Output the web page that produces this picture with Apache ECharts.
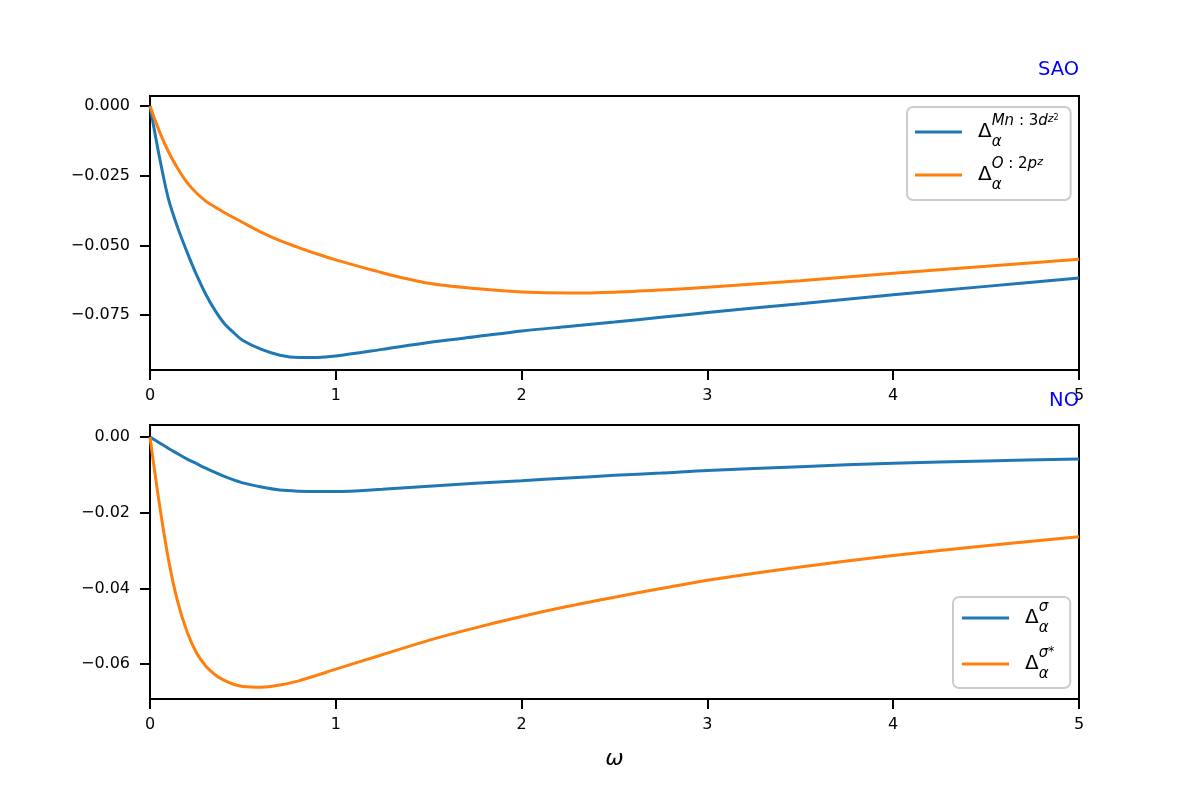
<!DOCTYPE html>
<html>
<head>
<meta charset="utf-8">
<script src="https://cdn.jsdelivr.net/npm/echarts@6/dist/echarts.min.js"></script>
<style>
  html, body { margin: 0; padding: 0; background: #fff; }
  #main { width: 1200px; height: 800px; }
</style>
</head>
<body>
<div id="main"></div>
<script>
// omega grid (x values shared by all curves)
var omega = [0, 0.05, 0.1, 0.15, 0.2, 0.25, 0.3, 0.35, 0.4, 0.45, 0.5, 0.6, 0.7, 0.8, 0.9, 1.0,
             1.25, 1.5, 1.75, 2.0, 2.25, 2.5, 2.75, 3.0, 3.5, 4.0, 4.5, 5.0];

// SAO panel
var saoMn = [0, -0.018, -0.0335, -0.0438, -0.0525, -0.0605, -0.0675, -0.0733, -0.078, -0.0813, -0.0841,
             -0.0873, -0.0894, -0.0902, -0.0902, -0.0897, -0.0873, -0.0848, -0.0828, -0.0807, -0.0791,
             -0.0775, -0.0758, -0.0741, -0.0709, -0.0677, -0.0647, -0.0617];
var saoO = [0, -0.009, -0.0165, -0.0225, -0.0275, -0.0312, -0.0341, -0.0362, -0.0382, -0.04, -0.0418,
            -0.0453, -0.0483, -0.0508, -0.0531, -0.0552, -0.0598, -0.0636, -0.0655, -0.0667, -0.0671,
            -0.0668, -0.066, -0.065, -0.0627, -0.06, -0.0575, -0.055];

// NO panel
var noSig = [0, -0.0015, -0.003, -0.0044, -0.0058, -0.007, -0.0082, -0.0093, -0.0104, -0.0113, -0.0121,
             -0.0132, -0.014, -0.0143, -0.0144, -0.0144, -0.0138, -0.013, -0.0122, -0.0115, -0.0108,
             -0.0101, -0.0095, -0.0088, -0.0078, -0.0069, -0.0063, -0.0058];
var noSigStar = [0, -0.0175, -0.0325, -0.0437, -0.0515, -0.057, -0.0605, -0.0628, -0.0643, -0.0653, -0.0659,
                 -0.0661, -0.0655, -0.0644, -0.0629, -0.0613, -0.0575, -0.0537, -0.0504, -0.0474, -0.0447,
                 -0.0423, -0.04, -0.0378, -0.0343, -0.0313, -0.0287, -0.0263];

// tick labels
var saoTicks = [0, -0.025, -0.05, -0.075];
var noTicks = [0, -0.02, -0.04, -0.06];
var saoRange = [-0.0947, 0.0036];
var noRange = [-0.0692, 0.0032];

var BLUE = '#1f77b4';
var ORANGE = '#ff7f0e';
var FONT = 'DejaVu Sans';

function pairs(xs, ys) {
    var out = [];
    for (var i = 0; i < xs.length; i++) {
        out.push([xs[i], ys[i]]);
    }
    return out;
}

function tickText(digits) {
    return function (v) {
        var s = Math.abs(v).toFixed(digits);
        return v < 0 ? '\u2212' + s : s;
    };
}

var legendText = {
    'Mn:3dz2': '{D|Δ}{a|α}{si|Mn}{s| : 3}{si|d}{zz|z}{two|2}',
    'O:2pz': '{D|Δ}{a|α}{si|O}{s| : 2}{si|p}{zz|z}',
    'σ': '{D|Δ}{a|α}{si|σ}',
    'σ*': '{D|Δ}{a|α}{si|σ}{st|*}'
};

var legendRich = {
    D: { fontSize: 20, lineHeight: 36, fontFamily: FONT, color: '#000' },
    a: { fontSize: 15, lineHeight: 20, width: 0, verticalAlign: 'bottom', fontStyle: 'italic', fontFamily: FONT, color: '#000' },
    si: { fontSize: 15, lineHeight: 24, verticalAlign: 'top', fontStyle: 'italic', fontFamily: FONT, color: '#000' },
    s: { fontSize: 15, lineHeight: 24, verticalAlign: 'top', fontFamily: FONT, color: '#000' },
    zz: { fontSize: 11, lineHeight: 33, verticalAlign: 'top', fontStyle: 'italic', fontFamily: FONT, color: '#000' },
    two: { fontSize: 8, lineHeight: 22, verticalAlign: 'top', fontFamily: FONT, color: '#000' },
    st: { fontSize: 12, lineHeight: 12, verticalAlign: 'top', fontFamily: FONT, color: '#000' }
};

function makeLegend(names, left, top, padding, gap) {
    return {
        data: names,
        orient: 'vertical',
        left: left,
        top: top,
        padding: padding,
        itemGap: gap,
        itemWidth: 47,
        itemHeight: 3,
        icon: 'path://M0,0H47V3H0Z',
        selectedMode: false,
        backgroundColor: 'rgba(255,255,255,0.8)',
        borderColor: '#cccccc',
        borderWidth: 2,
        borderRadius: 6,
        formatter: function (name) { return legendText[name]; },
        textStyle: { padding: [0, 0, 0, 11], rich: legendRich }
    };
}

function makeXAxis(idx, withName) {
    var ax = {
        type: 'value',
        gridIndex: idx,
        min: 0,
        max: 5,
        interval: 1,
        splitLine: { show: false },
        axisLine: { show: true, onZero: false, lineStyle: { color: '#000', width: 2 } },
        axisTick: { show: true, inside: false, length: 10, lineStyle: { color: '#000', width: 2 } },
        axisLabel: { color: '#000', fontSize: 16, fontFamily: FONT, margin: 18 }
    };
    if (withName) {
        ax.name = 'ω';
        ax.nameLocation = 'middle';
        ax.nameGap = 49;
        ax.nameTextStyle = { fontSize: 22, fontStyle: 'italic', fontFamily: FONT, color: '#000' };
    }
    return ax;
}

function makeYAxis(idx, range, ticks, digits) {
    return {
        type: 'value',
        gridIndex: idx,
        min: range[0],
        max: range[1],
        splitLine: { show: false },
        axisLine: { show: true, onZero: false, lineStyle: { color: '#000', width: 2 } },
        axisTick: { show: true, inside: false, length: 10, customValues: ticks, lineStyle: { color: '#000', width: 2 } },
        axisLabel: { color: '#000', fontSize: 16, fontFamily: FONT, margin: 20, customValues: ticks, formatter: tickText(digits) }
    };
}

function makeLine(name, idx, ys, color) {
    return {
        name: name,
        type: 'line',
        xAxisIndex: idx,
        yAxisIndex: idx,
        data: pairs(omega, ys),
        symbol: 'none',
        smooth: 0.3,
        color: color,
        lineStyle: { color: color, width: 3 }
    };
}

var myChart = echarts.init(document.getElementById('main'), null, { renderer: 'canvas' });

var option = {
    animation: false,
    backgroundColor: '#fff',
    title: [
        { text: 'SAO', right: 121, top: 60, padding: 0, textStyle: { color: '#0000ff', fontSize: 19.5, fontWeight: 'normal', fontFamily: FONT } },
        { text: 'NO', right: 121, top: 391, padding: 0, textStyle: { color: '#0000ff', fontSize: 19.5, fontWeight: 'normal', fontFamily: FONT } }
    ],
    legend: [
        makeLegend(['Mn:3dz2', 'O:2pz'], 907, 107, [7, 12, 7, 8], 7),
        makeLegend(['σ', 'σ*'], 953, 597, [3, 16, 6, 9], 10)
    ],
    grid: [
        { left: 150, top: 96, width: 929, height: 274, show: true, borderColor: '#000', borderWidth: 2, outerBoundsMode: 'none' },
        { left: 150, top: 425, width: 929, height: 274, show: true, borderColor: '#000', borderWidth: 2, outerBoundsMode: 'none' }
    ],
    xAxis: [makeXAxis(0, false), makeXAxis(1, true)],
    yAxis: [makeYAxis(0, saoRange, saoTicks, 3), makeYAxis(1, noRange, noTicks, 2)],
    series: [
        makeLine('Mn:3dz2', 0, saoMn, BLUE),
        makeLine('O:2pz', 0, saoO, ORANGE),
        makeLine('σ', 1, noSig, BLUE),
        makeLine('σ*', 1, noSigStar, ORANGE)
    ]
};

myChart.setOption(option);
</script>
</body>
</html>
